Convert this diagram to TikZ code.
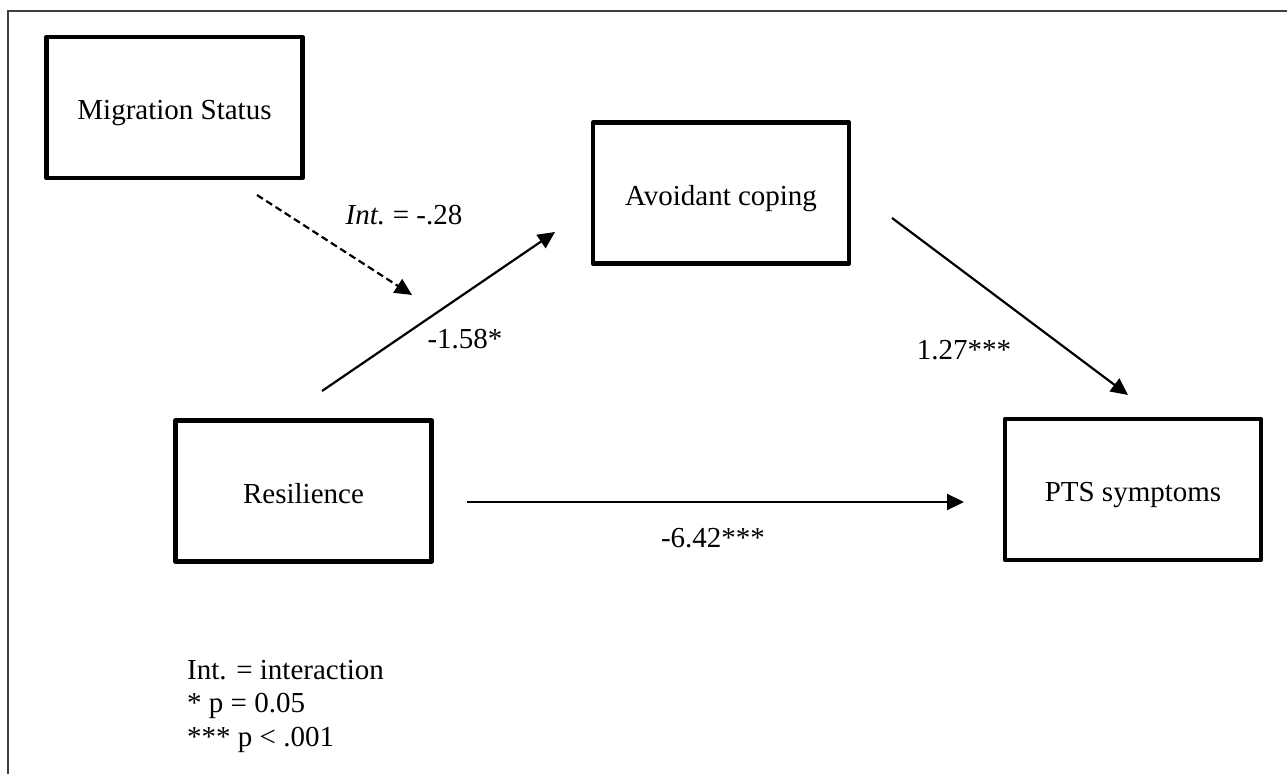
\documentclass[tikz,border=0pt]{standalone}
\usepackage{fontspec}
\setmainfont{Liberation Serif}
\usetikzlibrary{arrows.meta}
\begin{document}
\begin{tikzpicture}[x=1pt,y=-1pt,
  every node/.style={font=\fontsize{29}{34}\selectfont, inner sep=0pt},
  varbox/.style={draw, line width=4.5pt, line join=round, minimum width=256pt, minimum height=141pt,
    text height=25pt, text depth=1pt},
  conn/.style={line width=2.2pt, -{Triangle[length=17pt,width=16pt]}},
  lbl/.style={anchor=center}]
\useasboundingbox (0,0) rectangle (1287,774);
% frame
\draw[line width=1.6pt, color=black!75] (8,774) -- (8,11) -- (1287,11);
% boxes
\node[varbox] (mig) at (174.5,107.5) {Migration Status};
\node[varbox] (avo) at (721,193) {Avoidant coping};
\node[varbox] (res) at (303.5,491) {Resilience};
\node[varbox] (pts) at (1133,489.5) {PTS symptoms};
% arrow endpoints
\coordinate (d1) at (257,195);
\coordinate (d2) at (412,295);
\coordinate (r1) at (322,391);
\coordinate (r2) at (555,232);
\coordinate (a1) at (892,218);
\coordinate (a2) at (1128,395);
\coordinate (h1) at (467,502);
\coordinate (h2) at (964,502);
% connectors
\draw[conn, dash pattern=on 7pt off 4pt] (d1) -- (d2);
\draw[conn] (r1) -- (r2);
\draw[conn] (a1) -- (a2);
\draw[conn] (h1) -- (h2);
% labels
\node[lbl] (lint) at (404,215) {\textit{Int.}\kern-2pt{} = -.28};
\node[lbl] (l158) at (465,339) {-1.58*};
\node[lbl] (l127) at (964,350) {1.27***};
\node[lbl] (l642) at (713,538) {-6.42***};
% legend
\node[anchor=west, align=left, font=\fontsize{29}{33.5}\selectfont] (leg) at (187,706)
  {Int. = interaction\\* p = 0.05\\*** p < .001};
\end{tikzpicture}
\end{document}
